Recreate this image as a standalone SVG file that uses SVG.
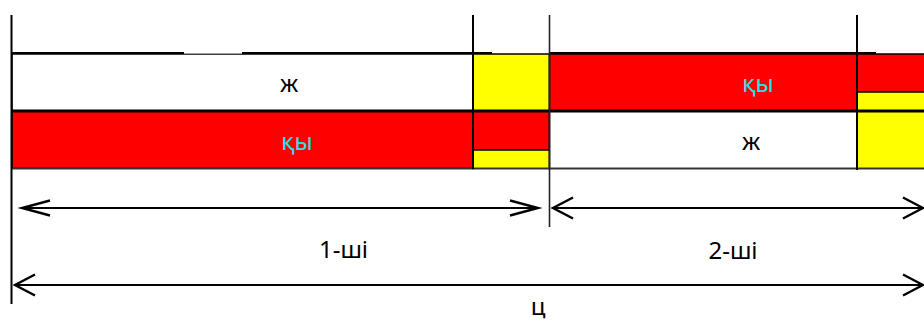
<svg xmlns="http://www.w3.org/2000/svg" width="924" height="323" viewBox="0 0 924 323">
  <style>
    .cell { stroke: #000; stroke-width: 1.5; }
    .red { fill: #ff0000; }
    .yellow { fill: #ffff00; }
    .white { fill: #ffffff; }
    .lbl { font-family: "Noto Sans", "Open Sans", sans-serif; font-size: 24px; text-anchor: middle; }
    .dark { fill: #000; }
    .cyan { fill: #1fe6e6; }
    .rule { stroke: #000; stroke-width: 2; fill: none; }
    .dim { stroke: #000; stroke-width: 2.2; fill: none; }
  </style>
  <defs>
    <marker id="headNarrow" markerUnits="userSpaceOnUse" orient="auto-start-reverse" refX="0" refY="0" markerWidth="30" markerHeight="20" overflow="visible">
      <path d="M-28,-7.5 L0,0 L-28,7.5" fill="none" stroke="#000" stroke-width="2.4"/>
    </marker>
    <marker id="headWide" markerUnits="userSpaceOnUse" orient="auto-start-reverse" refX="0" refY="0" markerWidth="30" markerHeight="24" overflow="visible">
      <path d="M-20,-10.5 L0,0 L-20,10.5" fill="none" stroke="#000" stroke-width="2.4"/>
    </marker>
  </defs>

  <rect width="924" height="323" fill="#ffffff"/>

  <!-- upper row -->
  <g id="r1-white">
    <rect class="cell white" x="12" y="54" width="461" height="57"/>
    <text class="lbl dark" x="289" y="92">ж</text>
  </g>
  <g id="r1-yellow">
    <rect class="cell yellow" x="473" y="54" width="76.5" height="57"/>
  </g>
  <g id="r1-red">
    <rect class="cell red" x="549.5" y="54" width="307.5" height="57"/>
    <text class="lbl cyan" x="758" y="92">қы</text>
  </g>
  <g id="r1-tail">
    <rect class="cell red" x="857" y="54" width="70" height="38"/>
    <rect class="cell yellow" x="857" y="92" width="70" height="19"/>
  </g>

  <!-- lower row -->
  <g id="r2-red">
    <rect class="cell red" x="12" y="111" width="461" height="57.5"/>
    <text class="lbl cyan" x="297" y="150">қы</text>
  </g>
  <g id="r2-split">
    <rect class="cell red" x="473" y="111" width="76.5" height="39"/>
    <rect class="cell yellow" x="473" y="150" width="76.5" height="18.5"/>
  </g>
  <g id="r2-white">
    <rect class="cell white" x="549.5" y="111" width="307.5" height="57.5"/>
    <text class="lbl dark" x="751" y="150">ж</text>
  </g>
  <g id="r2-tail">
    <rect class="cell yellow" x="857" y="111" width="70" height="57.5"/>
  </g>

  <!-- rules and boundaries -->
  <g id="rules">
    <line class="rule" x1="12" y1="53" x2="184" y2="53"/>
    <line x1="184" y1="53.5" x2="242" y2="53.5" stroke="#a0a0a0" stroke-width="1"/>
    <line class="rule" x1="242" y1="53" x2="492" y2="53"/>
    <line class="rule" x1="549" y1="53" x2="876" y2="53"/>
    <line x1="12" y1="111" x2="924" y2="111" stroke="#000" stroke-width="3"/>
    <line x1="12" y1="168.5" x2="924" y2="168.5" stroke="#333" stroke-width="1.6"/>
    <line class="rule" x1="11.5" y1="15" x2="11.5" y2="304"/>
    <line class="rule" x1="473" y1="15" x2="473" y2="169"/>
    <line x1="549.5" y1="15" x2="549.5" y2="227" stroke="#222" stroke-width="1.6"/>
    <line class="rule" x1="857" y1="15" x2="857" y2="170"/>
  </g>

  <!-- dimension arrows -->
  <g id="connectors">
    <line class="dim" x1="22" y1="208" x2="538" y2="208" marker-start="url(#headNarrow)" marker-end="url(#headNarrow)"/>
    <line class="dim" x1="553" y1="208" x2="923" y2="208" marker-start="url(#headWide)" marker-end="url(#headWide)"/>
    <line class="dim" x1="15" y1="285" x2="923" y2="285" marker-start="url(#headWide)" marker-end="url(#headWide)"/>
  </g>

  <g id="dim-labels">
    <text class="lbl dark" x="343.5" y="258">1-ші</text>
    <text class="lbl dark" x="733" y="259">2-ші</text>
    <text class="lbl dark" x="538" y="315">ц</text>
  </g>
</svg>
